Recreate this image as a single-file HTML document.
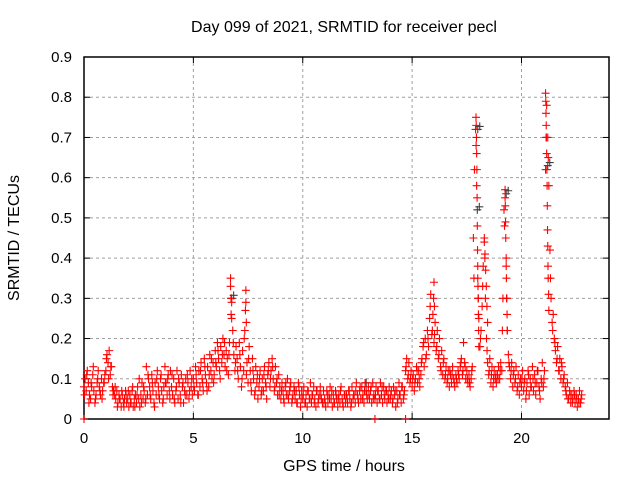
<!DOCTYPE html>
<html><head><meta charset="utf-8"><style>
html,body{margin:0;padding:0;background:#fff;}
svg{display:block;font-family:"Liberation Sans",sans-serif;}
</style></head><body>
<svg id="chart" width="640" height="480" viewBox="0 0 640 480" xmlns="http://www.w3.org/2000/svg">
<rect width="640" height="480" fill="#fff"/>
<g id="grid"></g>
<g id="axes"></g>
<g id="marks"></g>
<text x="344" y="32" font-size="16" text-anchor="middle">Day 099 of 2021, SRMTID for receiver pecl</text>
<text x="344" y="471" font-size="16" text-anchor="middle">GPS time / hours</text>
<text transform="translate(19,238) rotate(-90)" font-size="16" text-anchor="middle">SRMTID / TECUs</text>
</svg>
<script>
const xTicks=[0,5,10,15,20];
const yTicks=[0,0.1,0.2,0.3,0.4,0.5,0.6,0.7,0.8,0.9];
const yTickLabels=["0","0.1","0.2","0.3","0.4","0.5","0.6","0.7","0.8","0.9"];
const tecStep=0.05;
const tecValues=[
.08,.10,.07,.12,.09,.06,.05,.08,.11,.07,.04,.06,.09,.12,.08,.06,.10,.07,.09,.11,
.12,.16,.14,.17,.11,.13,.08,.07,.06,.05,.07,.04,.06,.05,.03,.06,.04,.05,.07,.04,
.05,.03,.06,.04,.07,.03,.05,.06,.04,.08,.05,.03,.06,.09,.05,.07,.04,.13,.06,.10,
.08,.05,.11,.07,.04,.09,.06,.12,.08,.05,.10,.07,.04,.08,.13,.09,.06,.11,.07,.12,
.08,.06,.10,.04,.07,.12,.05,.09,.06,.11,.08,.04,.07,.10,.06,.09,.05,.12,.08,.06,
.10,.07,.13,.09,.06,.12,.08,.14,.10,.07,.15,.11,.09,.13,.08,.16,.12,.10,.14,.11,
.17,.13,.19,.15,.12,.18,.14,.20,.16,.13,.17,.15,.11,.19,.33,.29,.22,.16,.12,.18,
.15,.10,.19,.13,.08,.17,.12,.22,.29,.14,.09,.18,.12,.07,.15,.10,.06,.13,.09,.05,
.08,.12,.06,.10,.07,.13,.09,.05,.11,.14,.08,.12,.15,.10,.07,.13,.09,.06,.11,.08,
.05,.09,.07,.04,.08,.06,.10,.05,.07,.09,.04,.06,.08,.05,.07,.04,.09,.06,.03,.07,
.05,.08,.04,.06,.03,.07,.05,.09,.04,.06,.08,.05,.03,.07,.04,.06,.08,.05,.04,.07,
.05,.03,.07,.04,.06,.08,.05,.03,.06,.04,.07,.05,.03,.06,.04,.08,.05,.03,.06,.04,
.06,.04,.07,.05,.03,.08,.05,.06,.04,.09,.06,.04,.07,.05,.08,.06,.04,.09,.07,.05,
.08,.05,.07,.04,.09,.06,.05,.08,.04,.07,.05,.09,.06,.04,.08,.05,.07,.04,.06,.08,
.05,.07,.04,.08,.06,.03,.07,.05,.09,.06,.04,.08,.05,.07,.12,.15,.10,.14,.09,.12,
.08,.11,.07,.10,.13,.09,.12,.08,.11,.15,.18,.13,.20,.16,.22,.18,.25,.31,.21,.26,
.19,.24,.17,.22,.15,.20,.13,.17,.11,.15,.10,.13,.09,.12,.08,.11,.09,.13,.10,.08,
.11,.09,.12,.10,.13,.15,.11,.19,.14,.10,.12,.09,.11,.08,.10,.13,.45,.62,.72,.58,
.35,.25,.18,.22,.28,.38,.44,.30,.20,.14,.11,.15,.09,.13,.08,.12,.10,.09,.11,.13,
.10,.14,.12,.30,.52,.55,.38,.22,.16,.13,.10,.14,.08,.12,.09,.13,.07,.11,.06,.10,
.08,.12,.07,.10,.05,.09,.12,.06,.10,.08,.13,.07,.11,.06,.09,.12,.08,.05,.10,.14,
.08,.12,.62,.78,.70,.58,.42,.30,.24,.26,.20,.17,.14,.18,.12,.15,.10,.13,.09,.11,
.08,.06,.09,.05,.07,.04,.06,.05,.07,.04,.06,.03,.05,.07,.04,.06
];
const tec2Start=0.025;
const tec2Step=0.1;
const tec2Values=[
.06,.11,.04,.09,.13,.05,.10,.07,.05,.09,
.15,.10,.13,.06,.08,.03,.05,.07,.03,.06,
.07,.04,.08,.03,.06,.10,.04,.08,.05,.11,
.06,.09,.03,.10,.06,.11,.05,.09,.10,.05,
.11,.05,.08,.10,.04,.09,.06,.11,.07,.10,
.08,.11,.06,.12,.09,.13,.07,.11,.15,.09,
.14,.17,.10,.16,.19,.12,.16,.26,.19,.14,
.12,.16,.10,.20,.11,.15,.09,.12,.07,.11,
.10,.07,.11,.08,.12,.10,.13,.08,.10,.06,
.07,.05,.09,.06,.08,.05,.07,.04,.08,.05,
.06,.04,.07,.05,.06,.04,.07,.05,.06,.04,
.04,.06,.05,.07,.04,.06,.05,.07,.04,.06,
.05,.07,.04,.06,.07,.05,.08,.05,.07,.06,
.06,.08,.05,.06,.07,.05,.08,.06,.07,.05,
.06,.05,.07,.04,.06,.08,.06,.13,.11,.10,
.10,.09,.12,.10,.14,.19,.15,.20,.28,.22,
.21,.18,.16,.12,.14,.11,.10,.12,.11,.09,
.10,.11,.14,.12,.13,.10,.09,.12,.35,.68,
.30,.20,.33,.40,.17,.12,.11,.10,.11,.10,
.12,.22,.48,.30,.14,.12,.11,.10,.08,.09,
.10,.09,.07,.11,.08,.10,.09,.12,.07,.09,
.10,.70,.65,.35,.22,.19,.15,.12,.14,.10,
.07,.05,.06,.04,.06,.05,.04,.05
];
const spikeTimes=[6.7,6.72,6.75,7.4,7.38,7.42,16.0,16.02,15.98,
17.92,17.93,17.94,17.95,17.96,17.97,17.98,17.99,18.0,18.01,18.02,18.03,18.04,18.05,
18.3,18.33,18.36,18.39,18.42,18.45,
19.25,19.26,19.27,19.28,19.3,19.31,19.32,19.34,19.35,
21.1,21.11,21.12,21.13,21.14,21.15,21.16,21.17,21.18,21.19,21.2,21.21,21.22,21.24,21.25,
0,13.3,14.7];
const spikeValues=[0.35,0.30,0.25,0.32,0.27,0.24,0.34,0.28,0.30,
.75,.73,.70,.66,.62,.55,.48,.42,.38,.33,.30,.26,.22,.18,
.45,.41,.37,.33,.28,.24,
.57,.53,.49,.45,.40,.35,.30,.26,.22,
.81,.79,.76,.73,.70,.66,.62,.58,.53,.47,.43,.38,.35,.31,.27,
0,0,0];
const darkTimes=[6.75,17.98,19.3,21.2,18.0,2.1,12.9];
const darkValues=[0.30,0.52,0.56,0.63,0.72,0.06,0.09];

const L=84,R=609,T=57,B=419,XMAX=24,YMAX=0.9;
const sx=v=>L+(R-L)*v/XMAX;
const sy=v=>B-(B-T)*v/YMAX;
const NS="http://www.w3.org/2000/svg";
function mk(tag,parent,attrs){const e=document.createElementNS(NS,tag);for(const k in attrs)e.setAttribute(k,attrs[k]);parent.appendChild(e);return e;}
const grid=document.getElementById('grid'),axes=document.getElementById('axes'),marks=document.getElementById('marks');
xTicks.forEach(t=>{
  if(t>0){const g=mk('line',grid,{x1:sx(t),x2:sx(t),y1:T,y2:B,stroke:'#a0a0a0','stroke-dasharray':'3,3'});
  
  }
  const a=mk('line',axes,{x1:sx(t),x2:sx(t),y1:B,y2:B-6,stroke:'#000'});
  
  
  const b=mk('line',axes,{x1:sx(t),x2:sx(t),y1:T,y2:T+6,stroke:'#000'});
  
  
  const l=mk('text',axes,{x:sx(t),y:B+24,'font-size':15,'text-anchor':'middle'});l.textContent=t;
  
  
});
yTicks.forEach((t,i)=>{
  if(t>0&&t<YMAX){const g=mk('line',grid,{x1:L,x2:R,y1:sy(t),y2:sy(t),stroke:'#a0a0a0','stroke-dasharray':'3,3'});
  
  }
  const a=mk('line',axes,{x1:L,x2:L+6,y1:sy(t),y2:sy(t),stroke:'#000'});
  
  
  const b=mk('line',axes,{x1:R,x2:R-6,y1:sy(t),y2:sy(t),stroke:'#000'});
  
  
  const l=mk('text',axes,{x:L-12,y:sy(t)+5,'font-size':15,'text-anchor':'end'});l.textContent=yTickLabels[i];
  
  
});
const box=mk('rect',axes,{x:L,y:T,width:R-L,height:B-T,fill:'none',stroke:'#000','stroke-width':1.5});


function plus(x,y,c){
  const p=mk('path',marks,{d:`M${x-4},${y}h8M${x},${y-4}v8`,stroke:c,'stroke-width':1.1,fill:'none'});
  
  
}
darkTimes.forEach((t,i)=>plus(sx(t),sy(darkValues[i]),'#404040'));
tecValues.forEach((v,i)=>plus(sx(i*tecStep),sy(v),'#ff0000'));
tec2Values.forEach((v,i)=>plus(sx(tec2Start+i*tec2Step),sy(v),'#ff0000'));
spikeTimes.forEach((t,i)=>plus(sx(t),sy(spikeValues[i]),'#ff0000'));
darkTimes.forEach((t,i)=>{ if(i<5) plus(sx(t)+2,sy(darkValues[i])-3,'#404040'); });
</script>
</body></html>
